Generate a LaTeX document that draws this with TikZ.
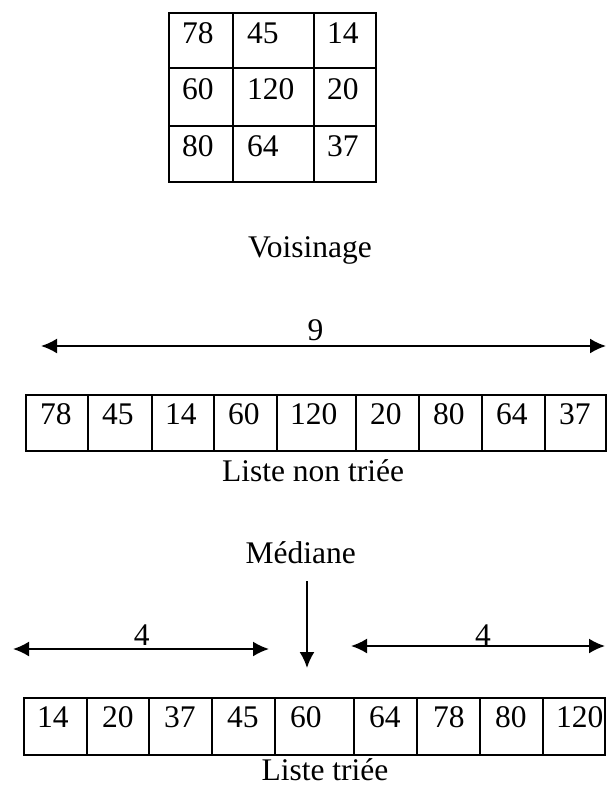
\documentclass[tikz,border=0pt]{standalone}
\usepackage{fontspec}
\setmainfont{Liberation Serif}
\usetikzlibrary{arrows.meta}
\tikzset{
	box/.style={line width=2pt},
	val/.style={inner sep=0pt,anchor=base west},
	lbl/.style={inner sep=0pt,anchor=base},
	fl/.style={line width=2pt,<->,>={Latex[length=16pt,width=15pt]}}
}
\begin{document}
\begin{tikzpicture}[x=1pt,y=-1pt,font=\fontsize{31.5}{36}\selectfont]
	\useasboundingbox (0,0) rectangle (607,787);
	%voisinage 3x3
	\draw[box] (169,13) rectangle (376,182);
	\draw[box] (233,13)--(233,182) (314,13)--(314,182);
	\draw[box] (169,68)--(376,68) (169,126)--(376,126);
	\node[val] (g11) at (182,43) {78};
	\node[val] (g12) at (247,43) {45};
	\node[val] (g13) at (327,43) {14};
	\node[val] (g21) at (182,99) {60};
	\node[val] (g22) at (247,99) {120};
	\node[val] (g23) at (327,99) {20};
	\node[val] (g31) at (182,156) {80};
	\node[val] (g32) at (247,156) {64};
	\node[val] (g33) at (327,156) {37};
	\node[lbl] (vois) at (310,257) {Voisinage};
	%liste non triee
	\coordinate (n1) at (41,346);
	\coordinate (n2) at (606,346);
	\draw[fl] (n1)--(n2);
	\node[lbl] (neuf) at (315.5,340) {9};
	\draw[box] (26,395) rectangle (606,451);
	\draw[box] (88,395)--(88,451) (152,395)--(152,451) (214,395)--(214,451)
		(277,395)--(277,451) (356,395)--(356,451) (419,395)--(419,451)
		(482,395)--(482,451) (545,395)--(545,451);
	\node[val] (u1) at (40,424) {78};
	\node[val] (u2) at (102,424) {45};
	\node[val] (u3) at (165,424) {14};
	\node[val] (u4) at (228,424) {60};
	\node[val] (u5) at (290,424) {120};
	\node[val] (u6) at (370,424) {20};
	\node[val] (u7) at (433,424) {80};
	\node[val] (u8) at (496,424) {64};
	\node[val] (u9) at (559,424) {37};
	\node[lbl] (nontri) at (313,481) {Liste non triée};
	%mediane
	\node[lbl] (med) at (300.7,563) {Médiane};
	\coordinate (m1) at (307,581);
	\coordinate (m2) at (307,668);
	\draw[fl,<-] (m2)--(m1);
	\coordinate (a1) at (13,649);
	\coordinate (a2) at (269,649);
	\draw[fl] (a1)--(a2);
	\node[lbl] (qg) at (141.7,645) {4};
	\coordinate (b1) at (351,646);
	\coordinate (b2) at (605,646);
	\draw[fl] (b1)--(b2);
	\node[lbl] (qd) at (483,645) {4};
	%liste triee
	\draw[box] (24,698) rectangle (605,755);
	\draw[box] (87,698)--(87,755) (149,698)--(149,755) (212,698)--(212,755)
		(275,698)--(275,755) (354,698)--(354,755) (417,698)--(417,755)
		(480,698)--(480,755) (543,698)--(543,755);
	\node[val] (t1) at (37,727) {14};
	\node[val] (t2) at (102,727) {20};
	\node[val] (t3) at (164,727) {37};
	\node[val] (t4) at (227,727) {45};
	\node[val] (t5) at (290,727) {60};
	\node[val] (t6) at (369,727) {64};
	\node[val] (t7) at (433,727) {78};
	\node[val] (t8) at (495,727) {80};
	\node[val] (t9) at (556,727) {120};
	\node[lbl] (tri) at (325,780) {Liste triée};
\end{tikzpicture}
\end{document}
